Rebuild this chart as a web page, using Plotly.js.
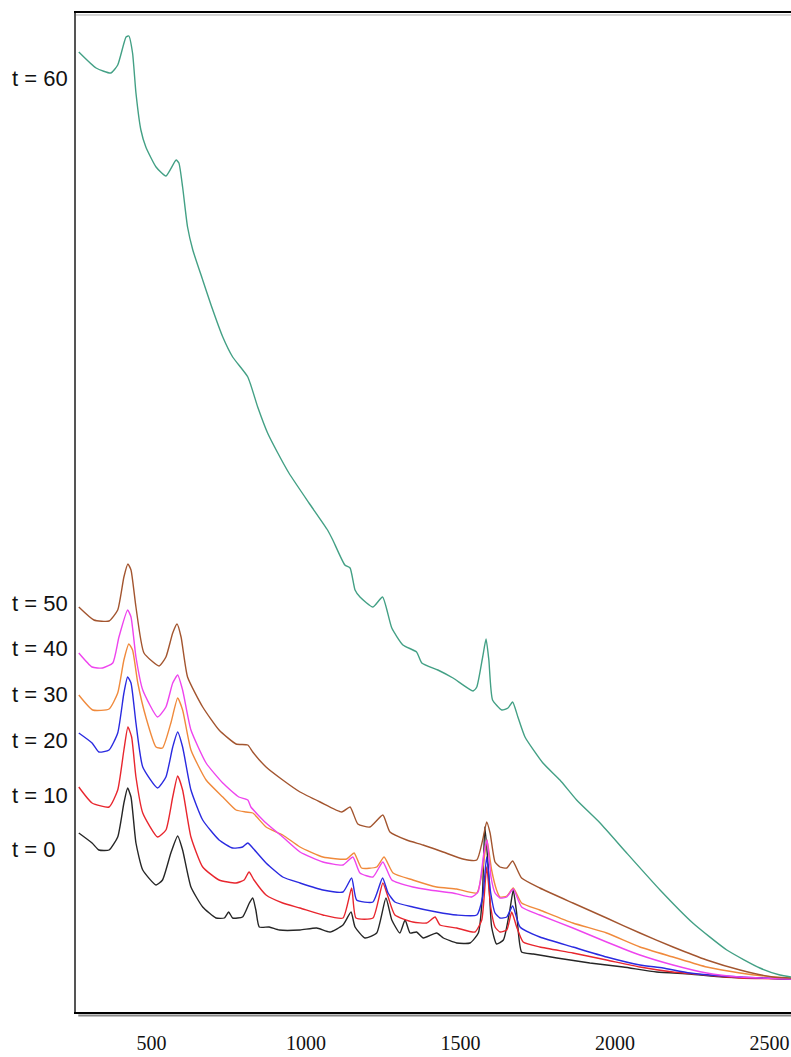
<!DOCTYPE html>
<html><head><meta charset="utf-8">
<script src="https://cdn.plot.ly/plotly-3.0.1.min.js"></script>
<style>html,body{margin:0;padding:0;overflow:hidden;background:#fff}</style>
</head><body><div id="chart" style="width:830px;height:1057px"></div>
<script>
// Raman-like spectra, wavenumber (x) vs intensity (arbitrary units)
const wn_t0 = [265,308,330,363,391,411,423,434,450,472,515,536,563,585,601,628,666,709,736,750,763,795,817,828,838,849,881,914,981,1035,1078,1120,1146,1159,1191,1229,1259,1278,1304,1321,1337,1358,1380,1423,1445,1488,1531,1558,1571,1579,1590,1601,1617,1639,1660,1671,1682,1698,1736,1812,1919,2027,2135,2243,2351,2459,2570];
const int_t0 = [179,169,162,162,175,209,224,215,169,142,127,132,159,176,162,125,105,94,94,100,94,95,109,114,102,85,85,82,82,84,80,87,100,85,74,79,114,92,79,92,79,80,74,79,74,69,69,79,115,185,145,85,68,72,102,122,99,60,58,54,49,45,40,38,35,34,33];

const wn_t10 = [265,308,363,391,411,424,436,450,472,520,547,569,585,601,628,666,719,774,800,816,832,871,925,981,1055,1120,1148,1162,1217,1249,1266,1288,1346,1391,1418,1434,1488,1547,1569,1585,1598,1612,1628,1650,1666,1682,1703,1757,1864,1973,2081,2188,2297,2405,2570];
const int_t10 = [225,209,205,222,262,285,275,235,199,175,182,215,236,222,175,145,132,129,132,140,132,117,109,104,97,94,124,94,94,129,115,97,90,89,95,87,84,80,92,145,105,85,80,82,100,85,70,65,59,52,45,40,37,34,33];

const wn_t20 = [265,308,330,363,391,411,423,434,450,472,520,547,569,585,601,628,666,719,763,795,812,828,871,925,981,1055,1120,1148,1164,1217,1248,1266,1288,1346,1423,1488,1553,1572,1585,1598,1612,1628,1650,1669,1693,1757,1864,1973,2081,2156,2243,2405,2570];
const int_t20 = [279,269,260,262,279,319,335,329,289,245,224,235,265,280,265,222,192,172,164,165,169,164,149,135,129,122,120,134,112,110,134,119,110,105,100,97,97,115,155,119,99,94,95,106,85,75,65,55,47,44,39,35,33];

const wn_t30 = [265,310,363,391,411,427,439,456,482,515,536,563,585,601,628,677,731,774,806,828,871,925,981,1055,1132,1156,1180,1229,1253,1282,1346,1423,1488,1553,1573,1586,1601,1617,1628,1650,1671,1698,1757,1864,1973,2081,2188,2297,2405,2511,2570];
const int_t30 = [317,302,303,319,352,368,362,329,295,265,264,289,314,302,262,232,215,202,200,199,185,177,165,155,153,159,144,145,155,139,132,125,123,119,145,172,142,122,115,116,124,109,102,89,79,65,55,45,39,35,34];

const wn_t40 = [265,308,342,375,395,423,434,450,472,520,547,569,585,601,628,677,731,783,812,822,871,925,981,1055,1120,1152,1175,1217,1249,1278,1346,1401,1476,1536,1557,1576,1586,1599,1612,1628,1650,1671,1698,1757,1864,1973,2081,2188,2297,2405,2570];
const int_t40 = [359,345,344,349,375,402,395,355,322,295,305,329,337,322,282,249,229,215,212,205,189,175,160,150,147,155,139,135,150,132,125,122,119,115,120,159,172,135,119,114,115,123,105,97,84,70,57,47,39,35,33];

const wn_t50 = [265,314,363,391,411,424,434,450,476,525,547,569,583,596,617,666,719,774,812,828,871,925,981,1046,1116,1143,1168,1207,1249,1272,1326,1379,1444,1508,1553,1572,1585,1596,1612,1628,1650,1669,1698,1757,1864,1973,2081,2188,2297,2405,2511,2570];
const int_t50 = [405,392,391,402,435,448,442,405,359,346,355,379,388,375,335,305,282,268,267,260,245,232,220,210,200,205,188,185,197,180,172,167,160,153,152,172,190,179,150,145,144,151,134,124,109,94,79,65,52,42,35,34];

const wn_t60 = [265,321,369,391,418,427,439,450,466,482,515,547,580,589,601,617,634,666,693,731,763,812,844,876,909,945,1010,1070,1087,1126,1143,1159,1175,1217,1248,1278,1314,1358,1375,1427,1476,1541,1553,1572,1583,1592,1604,1634,1654,1669,1686,1709,1767,1822,1876,1952,2038,2146,2252,2362,2469,2534,2570];
const int_t60 = [960,944,939,947,975,976,959,919,882,865,845,836,852,849,825,785,762,732,707,675,655,635,605,579,559,539,509,482,472,447,444,422,415,405,415,384,367,360,349,342,334,321,325,355,373,352,312,302,304,310,295,275,249,232,212,189,159,122,89,62,44,37,35];

const seriesNames = ["t = 0","t = 10","t = 20","t = 30","t = 40","t = 50","t = 60"];
const seriesColors = ["#262626","#e8262e","#2a2ae0","#f08a3c","#ee44ee","#a3552f","#43a085"];
const labelLevels = [163,217,272,318,364,409,934];
const tickVals = [500,1000,1500,2000,2500];
const tickText = ["500","1000","1500","2000","2500"];

const xs = [wn_t0,wn_t10,wn_t20,wn_t30,wn_t40,wn_t50,wn_t60];
const ys = [int_t0,int_t10,int_t20,int_t30,int_t40,int_t50,int_t60];

const traces = xs.map((x,i)=>({
  x:x, y:ys[i], type:'scatter', mode:'lines', name:seriesNames[i],
  line:{color:seriesColors[i], width:1.4, shape:'spline', smoothing:0.5}
}));

const annotations = seriesNames.map((n,i)=>({
  text:n, xref:'paper', yref:'y', x:-0.0875, y:labelLevels[i],
  xanchor:'left', yanchor:'middle', showarrow:false,
  font:{family:"'Liberation Sans', Arial, sans-serif", size:22, color:'#111'}
}));

const layout = {
  width:830, height:1057,
  margin:{l:76, r:0, t:13, b:45},
  paper_bgcolor:'#fff', plot_bgcolor:'#fff',
  showlegend:false,
  xaxis:{range:[256,2696], tickvals:tickVals, ticktext:tickText,
    showgrid:false, zeroline:false, showline:true, mirror:true,
    linecolor:'#000', linewidth:2, ticks:'', ticklabelstandoff:12,
    tickfont:{family:"'Liberation Serif', 'Times New Roman', serif", size:20, color:'#111'}},
  yaxis:{range:[0,999], showticklabels:false, ticks:'', showgrid:false,
    zeroline:false, showline:true, linecolor:'#555', linewidth:2},
  annotations:annotations,
  shapes:[
    {type:'line', xref:'paper', yref:'paper', x0:0.003, x1:1.1, y0:-0.0035, y1:-0.0035,
     line:{color:'#888', width:2}},
    {type:'line', xref:'paper', yref:'paper', x0:0, x1:1.1, y0:0.998, y1:0.998,
     line:{color:'#aaa', width:1}}
  ]
};

Plotly.newPlot('chart', traces, layout, {displayModeBar:false, staticPlot:true});
</script>
</body></html>
